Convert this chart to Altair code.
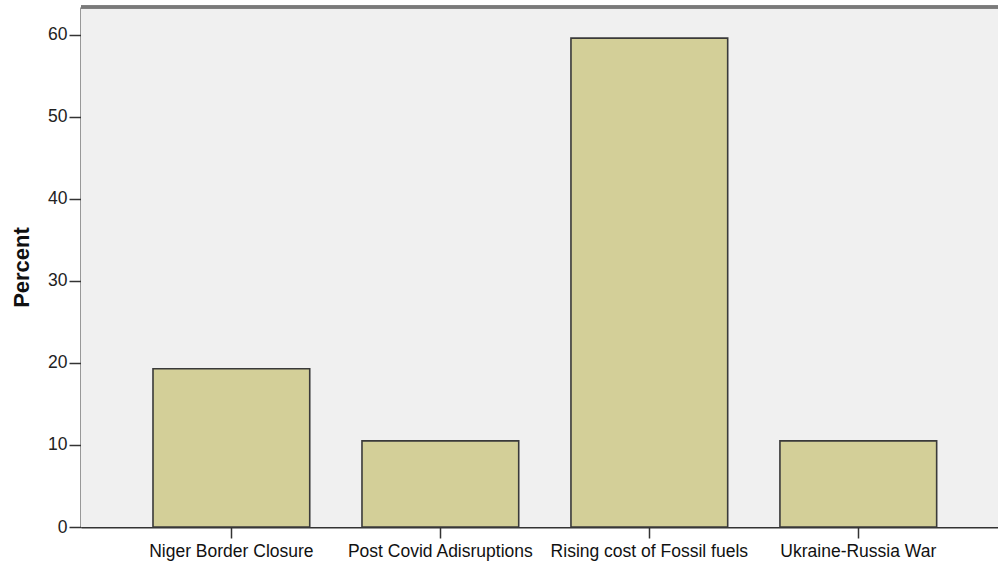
import altair as alt
import pandas as pd

categories = ["Niger Border Closure", "Post Covid Adisruptions", "Rising cost of Fossil fuels", "Ukraine-Russia War"]
percent = [19.3, 10.5, 59.6, 10.5]
y_ticks = [0, 10, 20, 30, 40, 50, 60]

df = pd.DataFrame({"cause": categories, "percent": percent})

W, H = 917, 520
FONT = "Liberation Sans"

panel = alt.Chart(df).mark_rect(fill="#f0f0f0", stroke=None).encode(
    x=alt.value(0), x2=alt.value(W), y=alt.value(0), y2=alt.value(H)
)

bars = alt.Chart(df).mark_bar(
    fill="#d3cf98", stroke="#3a3a3a", strokeWidth=1.6
).encode(
    x=alt.X("cause:N", sort=categories, title=None,
            scale=alt.Scale(paddingInner=0.25, paddingOuter=0.319, align=0.54),
            axis=alt.Axis(labelAngle=0, labelFont=FONT, labelFontSize=17.5, labelColor="#111",
                          tickSize=11, tickColor="#333", tickWidth=1.5,
                          domainColor="#333", domainWidth=2, labelPadding=4, labelLimit=300)),
    y=alt.Y("percent:Q", title="Percent",
            scale=alt.Scale(domain=[0, 63.4], nice=False, zero=True),
            axis=alt.Axis(values=y_ticks, grid=False, labelFont=FONT, labelFontSize=17.5,
                          labelColor="#222", tickSize=12, tickColor="#333", tickWidth=1.5,
                          domainColor="#333", domainWidth=2, labelPadding=2,
                          titleFont=FONT, titleFontSize=22, titleFontWeight="bold",
                          titleColor="#111", titlePadding=14)),
)

top_line = alt.Chart(df).mark_rule(color="#7a7a7a", strokeWidth=3).encode(
    y=alt.value(0), x=alt.value(0), x2=alt.value(W)
)

chart = alt.layer(panel, bars, top_line).properties(
    width=W, height=H,
    autosize=alt.AutoSizeParams(type="none"),
    padding={"left": 81, "top": 7, "right": 0, "bottom": 38},
).configure_view(stroke="transparent", strokeWidth=0).configure(background="white")

chart.save("out.html", embed_options={"renderer": "svg", "actions": False})
